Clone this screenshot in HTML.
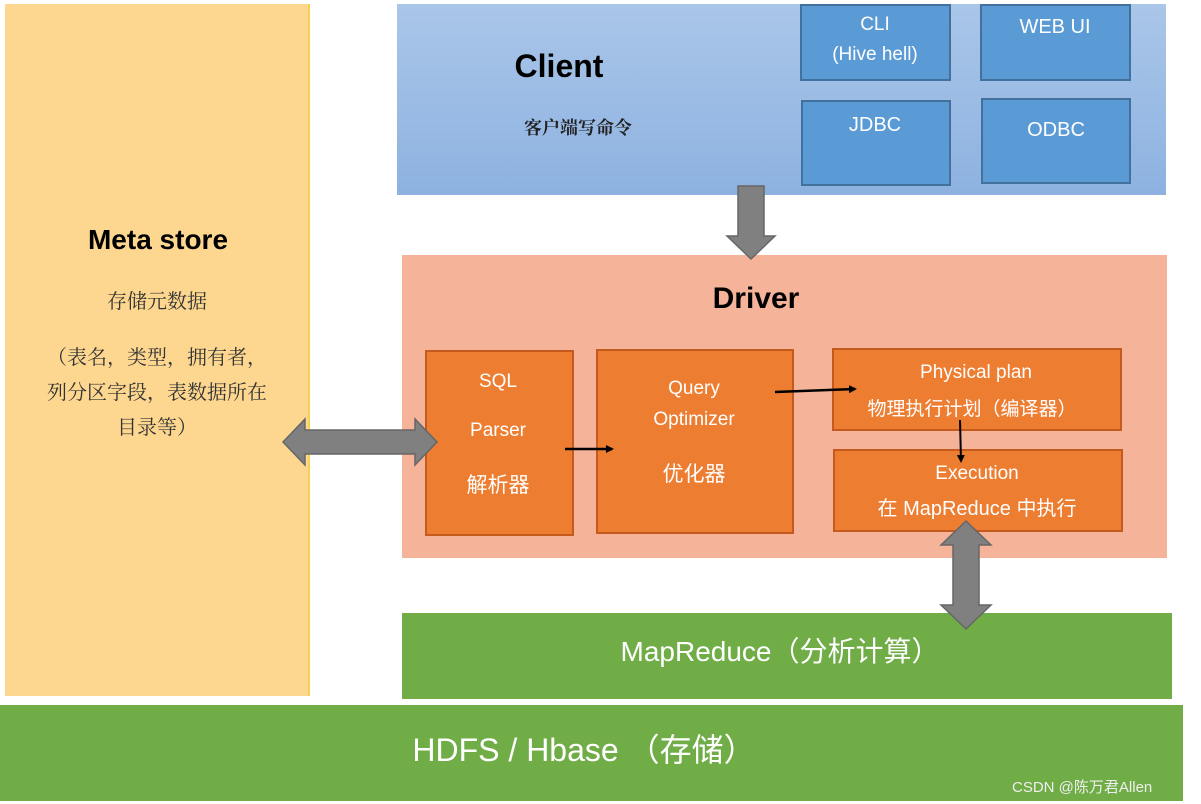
<!DOCTYPE html>
<html><head><meta charset="utf-8"><style>
*{margin:0;padding:0}
body{width:1201px;height:804px;background:#fff;position:relative;overflow:hidden;font-family:"Liberation Sans","Noto Sans CJK SC",sans-serif}
.a{position:absolute;box-sizing:border-box}
.t{position:absolute;white-space:nowrap;transform:translateX(-50%)}
.w{color:#fff}
.blue{background:#5b9bd5;border:2px solid #41719c}
.or{background:#ed7d31;border:2px solid #c55a1e}
</style></head><body>
<div class="a" style="left:5px;top:4px;width:305px;height:692px;background:#fdd78f;border-right:2px solid #f6d250"></div>
<div class="a" style="left:397px;top:4px;width:769px;height:191px;background:linear-gradient(#aac6e9,#8db2e0)"></div>
<div class="a blue" style="left:800px;top:4px;width:151px;height:77px"></div>
<div class="a blue" style="left:980px;top:4px;width:151px;height:77px"></div>
<div class="a blue" style="left:801px;top:100px;width:150px;height:86px"></div>
<div class="a blue" style="left:981px;top:98px;width:150px;height:86px"></div>
<div class="a" style="left:402px;top:255px;width:765px;height:303px;background:#f5b49a"></div>
<div class="a or" style="left:425px;top:350px;width:149px;height:186px"></div>
<div class="a or" style="left:596px;top:349px;width:198px;height:185px"></div>
<div class="a or" style="left:832px;top:348px;width:290px;height:83px"></div>
<div class="a or" style="left:833px;top:449px;width:290px;height:83px"></div>
<div class="a" style="left:402px;top:613px;width:770px;height:86px;background:#70ad47"></div>
<div class="a" style="left:0;top:705px;width:1183px;height:96px;background:#70ad47"></div>
<svg class="a" style="left:0;top:0" width="1201" height="804">
<defs><marker id="m" markerWidth="8" markerHeight="8" refX="6" refY="4" orient="auto" markerUnits="userSpaceOnUse"><path d="M0,0L8,4L0,8z" fill="#000"/></marker></defs>
<path d="M738,186H764V236H775L751,259L727,236H738Z" fill="#808080" stroke="#666" stroke-width="1.5"/>
<path d="M283,442L305,419V430H415V419L437,442L415,465V454H305V465Z" fill="#808080" stroke="#666" stroke-width="1.5"/>
<path d="M966,521L991,545H979V605H991L966,629L941,605H953V545H941Z" fill="#808080" stroke="#666" stroke-width="1.5"/>
<line x1="565" y1="449" x2="612" y2="449" stroke="#000" stroke-width="2.5" marker-end="url(#m)"/>
<line x1="775" y1="392" x2="855" y2="389" stroke="#000" stroke-width="2.5" marker-end="url(#m)"/>
<line x1="960" y1="420" x2="961" y2="461" stroke="#000" stroke-width="2" marker-end="url(#m)"/>
</svg>
<div class="t" style="left:158px;top:224px;font-size:28px;font-weight:bold">Meta store</div>
<div class="t" style="left:157px;top:285px;font-size:20px;color:#333;font-family:'Noto Serif CJK SC',serif">存储元数据</div>
<div class="t" style="left:157px;top:338px;font-size:20px;color:#333;font-family:'Noto Serif CJK SC',serif;text-align:center;line-height:35px">（表名，类型，拥有者，<br>列分区字段，表数据所在<br>目录等）</div>
<div class="t" style="left:559px;top:48px;font-size:32px;font-weight:bold">Client</div>
<div class="t" style="left:578px;top:114px;font-size:18px;font-weight:bold;color:#222;font-family:'Noto Serif CJK SC',serif">客户端写命令</div>
<div class="t w" style="left:875px;top:10px;font-size:19px;text-align:center;line-height:30px">CLI<br>(Hive hell)</div>
<div class="t w" style="left:1055px;top:16px;font-size:20px">WEB UI</div>
<div class="t w" style="left:875px;top:114px;font-size:20px">JDBC</div>
<div class="t w" style="left:1056px;top:119px;font-size:20px">ODBC</div>
<div class="t" style="left:756px;top:282px;font-size:30px;font-weight:bold">Driver</div>
<div class="t w" style="left:498px;top:371px;font-size:19px">SQL</div>
<div class="t w" style="left:498px;top:420px;font-size:19px">Parser</div>
<div class="t w" style="left:498px;top:469px;font-size:21px">解析器</div>
<div class="t w" style="left:694px;top:378px;font-size:19px">Query</div>
<div class="t w" style="left:694px;top:409px;font-size:19px">Optimizer</div>
<div class="t w" style="left:694px;top:458px;font-size:21px">优化器</div>
<div class="t w" style="left:976px;top:362px;font-size:19px">Physical plan</div>
<div class="t w" style="left:972px;top:394px;font-size:19px">物理执行计划（编译器）</div>
<div class="t w" style="left:977px;top:463px;font-size:19px">Execution</div>
<div class="t w" style="left:977px;top:492px;font-size:20px">在 MapReduce 中执行</div>
<div class="t w" style="left:780px;top:630px;font-size:28px">MapReduce（分析计算）</div>
<div class="t w" style="left:584px;top:725px;font-size:32px">HDFS / Hbase （存储）</div>
<div class="a" style="left:1012px;top:776px;font-size:15px;color:#eee">CSDN @陈万君Allen</div>
</body></html>
